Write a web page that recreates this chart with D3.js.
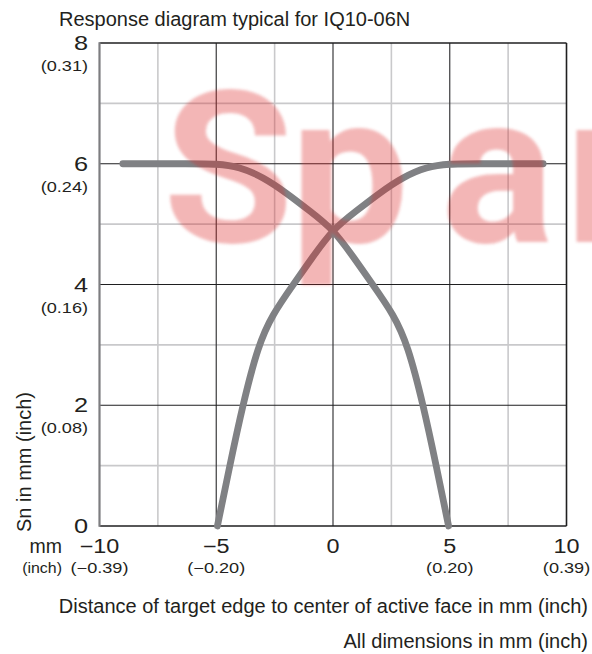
<!DOCTYPE html>
<html>
<head>
<meta charset="utf-8">
<script src="https://cdn.jsdelivr.net/npm/d3@7"></script>
<style>
  html, body { margin: 0; padding: 0; background: #fff; }
  svg { display: block; }
</style>
</head>
<body>
<svg id="chart" width="592" height="654"></svg>
<script>
// ---------- data ----------
const title = "Response diagram typical for IQ10-06N";
const xTitle = "Distance of target edge to center of active face in mm (inch)";
const note = "All dimensions in mm (inch)";
const yTitle = "Sn in mm (inch)";
const watermark = ["S", "p", "a", "r"];

const xMajorTicks = [-10, -5, 0, 5, 10];
const xMajorLabels = ["\u221210", "\u22125", "0", "5", "10"];
const xInchLabels = ["(\u22120.39)", "(\u22120.20)", "", "(0.20)", "(0.39)"];
const xMinorTicks = [-7.5, -2.5, 2.5, 7.5];

const yMajorTicks = [0, 2, 4, 6, 8];
const yMajorLabels = ["0", "2", "4", "6", "8"];
const yInchLabels = ["", "(0.08)", "(0.16)", "(0.24)", "(0.31)"];
const yMinorTicks = [1, 3, 5, 7];

// curve falling to the right
const curveAx = [-9, -6, -5, -4, -3, -2, -1, 0, 0.9, 1.7, 2.6, 3.2, 3.87, 4.42, 4.95];
const curveAy = [6, 6, 6, 5.95, 5.78, 5.52, 5.22, 4.92, 4.44, 4.0, 3.5, 3.0, 2.0, 1.0, 0];
// curve rising to the right
const curveBx = [-4.95, -4.42, -3.87, -3.2, -2.6, -1.7, -0.9, 0, 1.0, 2.0, 3.0, 4.0, 5.0, 6, 9];
const curveBy = [0, 1, 2, 3, 3.5, 4.0, 4.44, 4.92, 5.22, 5.52, 5.78, 5.95, 6, 6, 6];

// ---------- layout ----------
const svg = d3.select("#chart");
const x = d3.scaleLinear().domain([-10, 10]).range([99.5, 566.5]);
const y = d3.scaleLinear().domain([0, 8]).range([526, 43]);
const FONT = "'Liberation Sans', Arial, sans-serif";
const TXT = "#231f20";

const defs = svg.append("defs");
defs.append("filter").attr("id", "blur")
  .attr("x", "-10%").attr("y", "-10%").attr("width", "120%").attr("height", "120%")
  .append("feGaussianBlur").attr("stdDeviation", 1.6);

// grid
const grid = svg.append("g");
grid.selectAll("line.vmin").data(xMinorTicks).join("line")
  .attr("x1", d => x(d)).attr("x2", d => x(d))
  .attr("y1", y(8)).attr("y2", y(0))
  .attr("stroke", "#c9c9cb").attr("stroke-width", 1.6);
grid.selectAll("line.hmin").data(yMinorTicks).join("line")
  .attr("x1", x(-10)).attr("x2", x(10))
  .attr("y1", d => y(d)).attr("y2", d => y(d))
  .attr("stroke", "#c9c9cb").attr("stroke-width", 1.6);
grid.selectAll("line.vmaj").data([-5, 0, 5]).join("line")
  .attr("x1", d => x(d)).attr("x2", d => x(d))
  .attr("y1", y(8)).attr("y2", y(0))
  .attr("stroke", "#3a3a3c").attr("stroke-width", 1.2);
grid.selectAll("line.hmaj").data([2, 4, 6]).join("line")
  .attr("x1", x(-10)).attr("x2", x(10))
  .attr("y1", d => y(d)).attr("y2", d => y(d))
  .attr("stroke", "#1f1f20").attr("stroke-width", 1.2);
// frame
grid.append("line").attr("x1", x(-10)).attr("x2", x(10)).attr("y1", y(8)).attr("y2", y(8))
  .attr("stroke", "#1f1f20").attr("stroke-width", 1.5);
grid.append("line").attr("x1", x(-10)).attr("x2", x(10)).attr("y1", y(0)).attr("y2", y(0))
  .attr("stroke", "#1f1f20").attr("stroke-width", 1.5);
grid.append("line").attr("x1", x(10)).attr("x2", x(10)).attr("y1", y(8)).attr("y2", y(0))
  .attr("stroke", "#1f1f20").attr("stroke-width", 1.6);
grid.append("line").attr("x1", x(-10)).attr("x2", x(-10)).attr("y1", y(8) - 0.75).attr("y2", y(0) + 0.75)
  .attr("stroke", "#7d7d80").attr("stroke-width", 2.2);

// curves
const line = d3.line().x(d => x(d[0])).y(d => y(d[1])).curve(d3.curveBasis);
const A = curveAx.map((v, i) => [v, curveAy[i]]);
const B = curveBx.map((v, i) => [v, curveBy[i]]);
svg.selectAll("path.curve").data([A, B]).join("path")
  .attr("class", "curve")
  .attr("d", line)
  .attr("fill", "none").attr("stroke", "#808184")
  .attr("stroke-width", 6.8).attr("stroke-linecap", "round").attr("stroke-linejoin", "round");

// text helper
function label(t, px, py, size, anchor, sx) {
  svg.append("text")
    .attr("transform", `translate(${px},${py}) scale(${sx},1)`)
    .attr("text-anchor", anchor)
    .attr("font-family", FONT).attr("font-size", size)
    .attr("fill", TXT)
    .text(t);
}

// title
label(title, 59, 26, 20, "start", 1);

// y tick labels
yMajorTicks.forEach((v, i) => {
  label(yMajorLabels[i], 88, y(v) + 7, 19.5, "end", 1.3);
  if (yInchLabels[i]) label(yInchLabels[i], 88, y(v) + 28, 14.5, "end", 1.25);
});
// x tick labels
xMajorTicks.forEach((v, i) => {
  label(xMajorLabels[i], x(v), 552.5, 19.5, "middle", 1.2);
  if (xInchLabels[i]) label(xInchLabels[i], x(v), 573, 14.5, "middle", 1.25);
});
label("mm", 62, 552.5, 19.5, "end", 1);
label("(inch)", 62, 573, 14.5, "end", 1.1);

// axis titles
svg.append("text")
  .attr("transform", `translate(31,462) rotate(-90)`)
  .attr("text-anchor", "middle")
  .attr("font-family", FONT).attr("font-size", 20).attr("fill", TXT)
  .text(yTitle);
label(xTitle, 588, 613, 20, "end", 1);
label(note, 588, 648, 20, "end", 1);

// watermark on top
const wmX = [163, 290, 441, 565];
const wm = svg.append("g").attr("opacity", 0.33).attr("filter", "url(#blur)");
wm.selectAll("text").data(watermark).join("text")
  .attr("x", (d, i) => wmX[i]).attr("y", 242)
  .attr("font-family", "Roboto, 'Liberation Sans', sans-serif")
  .attr("font-weight", 700).attr("font-size", 212)
  .attr("fill", "#dc2828")
  .text(d => d);
</script>
</body>
</html>
